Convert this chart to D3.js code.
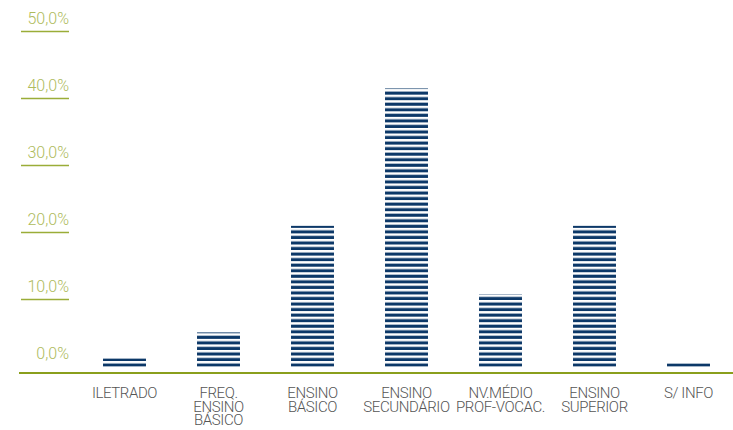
<!DOCTYPE html>
<html>
<head>
<meta charset="utf-8">
<script src="https://cdn.jsdelivr.net/npm/d3@7"></script>
<style>
  html, body { margin: 0; padding: 0; background: #fff; }
  svg { display: block; }
  .lbl { font-family: Roboto, "DejaVu Sans Condensed", sans-serif; font-weight: 300; }
</style>
</head>
<body>
<svg id="chart" width="733" height="430"></svg>
<script>
const categories = [
  ["ILETRADO"],
  ["FREQ.", "ENSINO", "BÁSICO"],
  ["ENSINO", "BÁSICO"],
  ["ENSINO", "SECUNDÁRIO"],
  ["NV.MÉDIO", "PROF-VOCAC."],
  ["ENSINO", "SUPERIOR"],
  ["S/ INFO"]
];
const values = [1.2, 5.1, 21.0, 41.5, 10.8, 21.0, 0.5];
const tickValues = [0, 10, 20, 30, 40, 50];
const tickLabels = ["0,0%", "10,0%", "20,0%", "30,0%", "40,0%", "50,0%"];

const svg = d3.select("#chart");
const W = 733, H = 430;

const x = d3.scaleBand()
  .domain(d3.range(categories.length))
  .range([77.5, 735.5])
  .paddingInner(0.543)
  .paddingOuter(0.2715);

const y = d3.scaleLinear().domain([0, 50]).range([366.6, 31.5]);

// stripe pattern anchored at the baseline
const period = 5.55, stripe = 3.1;
const defs = svg.append("defs");
const pat = defs.append("pattern")
  .attr("id", "stripes")
  .attr("patternUnits", "userSpaceOnUse")
  .attr("x", 0).attr("y", y(0))
  .attr("width", 20).attr("height", period);
pat.append("rect")
  .attr("x", 0).attr("y", period - stripe)
  .attr("width", 20).attr("height", stripe)
  .attr("fill", "#0c3868");

// y ticks: labels + short underline
const yt = svg.append("g").selectAll("g").data(tickValues).join("g");
yt.filter(d => d !== 0).append("line")
  .attr("x1", 21).attr("x2", 69)
  .attr("y1", d => y(d)).attr("y2", d => y(d))
  .attr("stroke", "#9aad38").attr("stroke-width", 1.5);
yt.append("text")
  .attr("class", "lbl")
  .attr("x", 69).attr("y", d => y(d) - 7.5)
  .attr("text-anchor", "end")
  .attr("font-size", 16)
  .attr("fill", "#aebb5c")
  .text((d, i) => tickLabels[i]);

// bars
svg.append("g").selectAll("rect").data(values).join("rect")
  .attr("x", (d, i) => x(i))
  .attr("width", x.bandwidth())
  .attr("y", d => y(d))
  .attr("height", d => y(0) - y(d))
  .attr("fill", "url(#stripes)");

// baseline axis
svg.append("line")
  .attr("x1", 19).attr("x2", W)
  .attr("y1", 373).attr("y2", 373)
  .attr("stroke", "#8a9f1c").attr("stroke-width", 2);

// x labels
const xl = svg.append("g").selectAll("text").data(categories).join("text")
  .attr("class", "lbl")
  .attr("text-anchor", "middle")
  .attr("font-size", 15)
  .attr("letter-spacing", -0.4)
  .attr("fill", "#555");
xl.each(function(lines, i) {
  d3.select(this).selectAll("tspan").data(lines).join("tspan")
    .attr("x", x(i) + x.bandwidth() / 2)
    .attr("y", (d, j) => 398 + j * 13.6)
    .text(d => d);
});
</script>
</body>
</html>
